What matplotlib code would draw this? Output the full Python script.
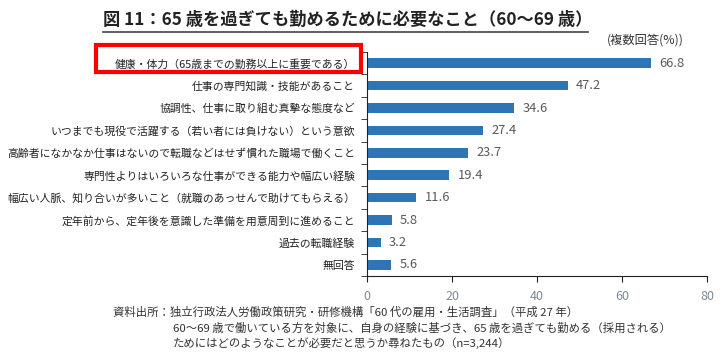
import matplotlib
matplotlib.use("Agg")
import matplotlib.pyplot as plt
from matplotlib.patches import Rectangle
from matplotlib.lines import Line2D

plt.rcParams['font.family'] = ['Noto Sans CJK JP', 'DejaVu Sans']

# data
labels = [
    "健康・体力（65歳までの勤務以上に重要である）",
    "仕事の専門知識・技能があること",
    "協調性、仕事に取り組む真摯な態度など",
    "いつまでも現役で活躍する（若い者には負けない）という意欲",
    "高齢者になかなか仕事はないので転職などはせず慣れた職場で働くこと",
    "専門性よりはいろいろな仕事ができる能力や幅広い経験",
    "幅広い人脈、知り合いが多いこと（就職のあっせんで助けてもらえる）",
    "定年前から、定年後を意識した準備を用意周到に進めること",
    "過去の転職経験",
    "無回答",
]
values = [66.8, 47.2, 34.6, 27.4, 23.7, 19.4, 11.6, 5.8, 3.2, 5.6]
x_ticks = [0, 20, 40, 60, 80]

title = "図 11：65 歳を過ぎても勤めるために必要なこと（60～69 歳）"
unit_note = "(複数回答(%))"
source_lines = [
    "資料出所：独立行政法人労働政策研究・研修機構「60 代の雇用・生活調査」（平成 27 年）",
    "60～69 歳で働いている方を対象に、自身の経験に基づき、65 歳を過ぎても勤める（採用される）",
    "ためにはどのようなことが必要だと思うか尋ねたもの（n=3,244）",
]

W, H = 728, 356
fig = plt.figure(figsize=(W / 100, H / 100), dpi=100)
ax = fig.add_axes([367 / W, 1 - 276 / H, (707 - 367) / W, (276 - 52) / H])

bar_color = "#2E75B6"
pos = list(range(len(labels)))
ax.barh(pos, values, height=0.42, color=bar_color)
for p, v in zip(pos, values):
    ax.text(v + 2.0, p, f"{v:.1f}", va="center", ha="left", fontsize=9.3, color="#595959")

ax.set_ylim(len(labels) - 0.5, -0.5)
ax.set_xlim(0, 80)
ax.set_yticks(pos)
ax.set_yticklabels(labels, fontsize=7.8, color="#222222")
ax.set_yticks([p - 0.5 for p in pos] + [len(labels) - 0.5], minor=True)
ax.tick_params(axis="y", which="major", length=0, pad=8.5)
ax.tick_params(axis="y", which="minor", length=4, direction="out", color="#222222")
ax.set_xticks(x_ticks)
ax.tick_params(axis="x", length=4, direction="out", color="#222222", labelsize=9,
               labelcolor="#7F8A99", pad=6)
ax.spines["top"].set_visible(False)
ax.spines["right"].set_visible(False)
ax.spines["left"].set_color("#222222")
ax.spines["bottom"].set_color("#222222")

# title with underline
fig.text(103 / W, 1 - 20 / H, title, fontsize=12.4, fontweight="bold", va="center", ha="left",
         color="#222222")
fig.add_artist(Line2D([103 / W, 588 / W], [1 - 32 / H, 1 - 32 / H], color="#444444", lw=1.2))

fig.text(684 / W, 1 - 40 / H, unit_note, fontsize=8.8, va="center", ha="right", color="#333333")

# red highlight box
fig.add_artist(Rectangle((96 / W, 1 - 72 / H), (361 - 96) / W, (72 - 45) / H,
                         fill=False, edgecolor="#FF0000", lw=3, transform=fig.transFigure))

# source note
fig.text(113 / W, 1 - 312 / H, source_lines[0], fontsize=8.2, va="center", ha="left", color="#333333")
fig.text(173 / W, 1 - 328 / H, source_lines[1], fontsize=8.2, va="center", ha="left", color="#333333")
fig.text(173 / W, 1 - 343 / H, source_lines[2], fontsize=8.2, va="center", ha="left", color="#333333")

fig.savefig("out.png", dpi=100)
